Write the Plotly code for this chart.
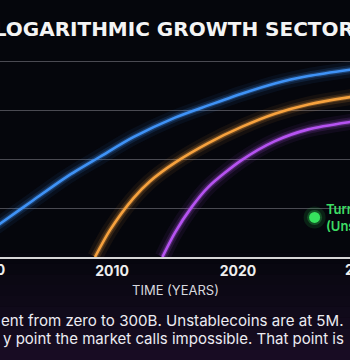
import plotly.graph_objects as go

# ---- data ----
years_blue = [2000.5, 2001.11, 2003.75, 2006.40, 2009.05, 2011.69, 2015.00, 2017.64, 2020.29, 2022.93, 2025.58, 2028.89, 2029.5]
vals_blue = [0.57, 0.68, 1.16, 1.64, 2.05, 2.45, 2.85, 3.10, 3.34, 3.55, 3.70, 3.83, 3.85]

years_orange = [2008.65, 2009.84, 2011.69, 2013.02, 2015.00, 2017.64, 2020.29, 2022.93, 2025.58, 2028.89, 2029.5]
vals_orange = [0.00, 0.55, 1.20, 1.55, 1.93, 2.33, 2.66, 2.93, 3.12, 3.27, 3.29]

years_purple = [2014.00, 2015.00, 2016.32, 2017.64, 2020.29, 2022.93, 2025.58, 2028.89, 2029.5]
vals_purple = [0.00, 0.50, 1.02, 1.43, 1.98, 2.37, 2.61, 2.76, 2.78]

marker_years = [2026.08]
marker_vals = [0.81]
marker_label = "Turning Point<br>(Unstablecoins)"

tick_years = [2000, 2010, 2020, 2030]
tick_text = ["2000", "2010", "2020", "2030"]
x_range = [2001.11, 2028.89]
y_range = [0, 4.417]
grid_vals = [1, 2, 3, 4]

title_text = "LOGARITHMIC GROWTH SECTORS"
x_title = "TIME (YEARS)"
caption_1 = "ent from zero to 300B. Unstablecoins are at 5M."
caption_2 = "y point the market calls impossible. That point is"

series = [
    (years_blue, vals_blue, "#3f93f7", "63,147,247"),
    (years_orange, vals_orange, "#f7a23e", "247,162,62"),
    (years_purple, vals_purple, "#b653f2", "182,83,242"),
]

fig = go.Figure()
for xs, ys, col, rgb in series:
    for w, a in [(16, 0.07), (9, 0.14), (5, 0.28)]:
        fig.add_trace(go.Scatter(x=xs, y=ys, mode="lines",
                                 line=dict(color=f"rgba({rgb},{a})", width=w, shape="spline", smoothing=0.8),
                                 hoverinfo="skip", showlegend=False))
    fig.add_trace(go.Scatter(x=xs, y=ys, mode="lines",
                             line=dict(color=col, width=2.6, shape="spline", smoothing=0.8),
                             showlegend=False))

# green marker with glow
fig.add_trace(go.Scatter(x=marker_years, y=marker_vals, mode="markers",
                         marker=dict(size=22, color="rgba(50,230,90,0.12)"),
                         hoverinfo="skip", showlegend=False))
fig.add_trace(go.Scatter(x=marker_years, y=marker_vals, mode="markers",
                         marker=dict(size=15, color="rgba(50,230,90,0.25)"),
                         hoverinfo="skip", showlegend=False))
fig.add_trace(go.Scatter(x=marker_years, y=marker_vals, mode="markers",
                         marker=dict(size=11, color="#36e25e"),
                         showlegend=False))

span = x_range[1] - x_range[0]
annotations = []
# edge tick labels (cropped by the frame)
for yv, tt in zip(tick_years, tick_text):
    if yv < x_range[0] or yv > x_range[1]:
        annotations.append(dict(x=(yv - x_range[0]) / span, y=0, xref="paper", yref="paper",
                                text=tt, showarrow=False, xanchor="center", yanchor="middle",
                                yshift=-12, font=dict(family="Inter", size=14, color="#eeeeee", weight=700)))
annotations.append(dict(x=marker_years[0], y=marker_vals[0], xref="x", yref="y",
                        text=marker_label, showarrow=False, xanchor="left", yanchor="middle",
                        align="left", xshift=9,
                        font=dict(family="Inter", size=13, color="#3ddc64", weight=600)))
annotations.append(dict(x=0.5, y=0, xref="paper", yref="paper", text=x_title, showarrow=False,
                        xanchor="center", yanchor="middle", yshift=-33,
                        font=dict(family="Inter", size=13, color="#d8d8de")))
annotations.append(dict(x=-0.004, y=0, xref="paper", yref="paper", text=caption_1, showarrow=False,
                        xanchor="left", yanchor="middle", yshift=-63,
                        font=dict(family="Inter", size=15.1, color="#ececf2")))
annotations.append(dict(x=0.004, y=0, xref="paper", yref="paper", text=caption_2, showarrow=False,
                        xanchor="left", yanchor="middle", yshift=-81,
                        font=dict(family="Inter", size=15.0, color="#ececf2")))

# subtle purple tint at the bottom of the card
shapes = []
n = 10
for i in range(n):
    y0 = -0.48 + i * 0.05
    shapes.append(dict(type="rect", xref="paper", yref="paper", x0=-0.01, x1=1.01, y0=y0, y1=y0 + 0.05,
                       fillcolor=f"rgba(40,18,55,{0.55 * (1 - i / n):.3f})", line=dict(width=0),
                       layer="below"))

fig.update_layout(
    width=350, height=360,
    margin=dict(l=0, r=0, t=41, b=103),
    paper_bgcolor="#05060c",
    plot_bgcolor="rgba(0,0,0,0)",
    template="none",
    title=dict(text=title_text, x=181 / 350, xref="container", xanchor="center",
               y=1 - 28.5 / 360, yref="container", yanchor="middle",
               font=dict(family="DejaVu Sans", size=20.0, color="#f4f4f4", weight=700)),
    xaxis=dict(range=x_range, tickvals=tick_years, ticktext=tick_text, showgrid=False,
               zeroline=False, showline=True, linecolor="#d6d6d6", linewidth=2,
               ticks="", automargin=False, fixedrange=True,
               tickfont=dict(family="Inter", size=14, color="#eeeeee", weight=700)),
    yaxis=dict(range=y_range, tickvals=grid_vals, showticklabels=False, showgrid=True,
               gridcolor="#4a4a52", gridwidth=1, zeroline=False, showline=False,
               automargin=False, fixedrange=True),
    annotations=annotations,
    shapes=shapes,
    showlegend=False,
)

fig.write_html("out.html", config={"displayModeBar": False})
